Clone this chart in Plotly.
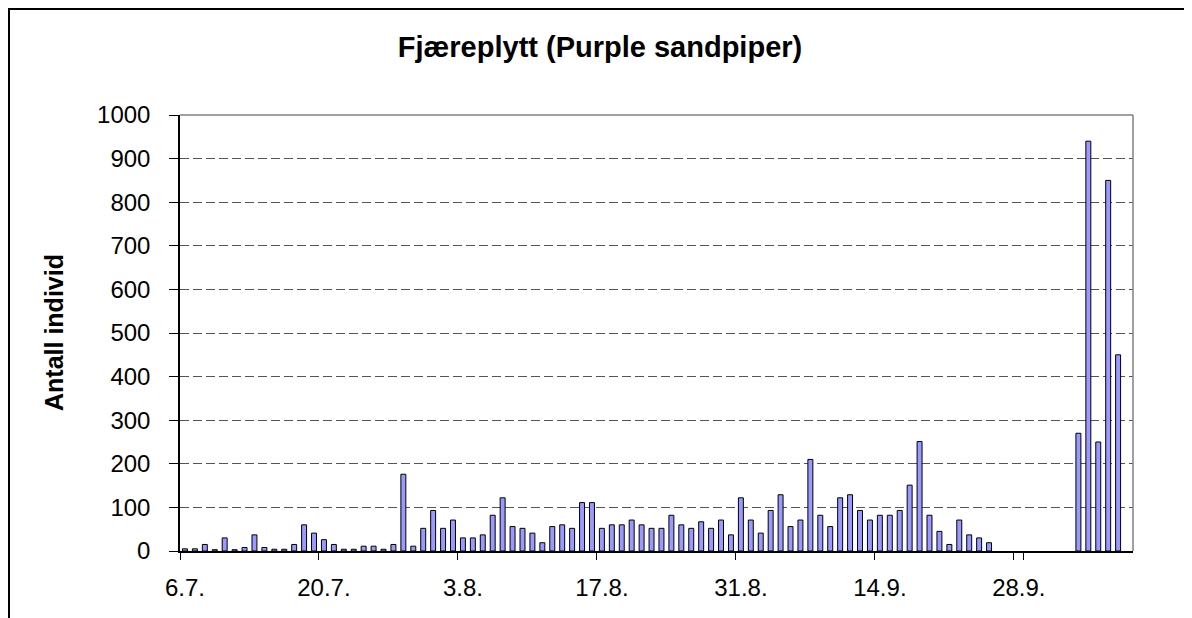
import plotly.graph_objects as go

# Daily categories 6.7. - 9.10.
dates = [
    "6.7.", "7.7.", "8.7.", "9.7.", "10.7.", "11.7.", "12.7.", "13.7.", "14.7.", "15.7.",
    "16.7.", "17.7.", "18.7.", "19.7.", "20.7.", "21.7.", "22.7.", "23.7.", "24.7.", "25.7.",
    "26.7.", "27.7.", "28.7.", "29.7.", "30.7.", "31.7.",
    "1.8.", "2.8.", "3.8.", "4.8.", "5.8.", "6.8.", "7.8.", "8.8.", "9.8.", "10.8.",
    "11.8.", "12.8.", "13.8.", "14.8.", "15.8.", "16.8.", "17.8.", "18.8.", "19.8.", "20.8.",
    "21.8.", "22.8.", "23.8.", "24.8.", "25.8.", "26.8.", "27.8.", "28.8.", "29.8.", "30.8.", "31.8.",
    "1.9.", "2.9.", "3.9.", "4.9.", "5.9.", "6.9.", "7.9.", "8.9.", "9.9.", "10.9.",
    "11.9.", "12.9.", "13.9.", "14.9.", "15.9.", "16.9.", "17.9.", "18.9.", "19.9.", "20.9.",
    "21.9.", "22.9.", "23.9.", "24.9.", "25.9.", "26.9.", "27.9.", "28.9.", "29.9.", "30.9.",
    "1.10.", "2.10.", "3.10.", "4.10.", "5.10.", "6.10.", "7.10.", "8.10.", "9.10.",
]

counts = [
    5, 5, 15, 3, 30, 3, 8, 37, 8, 4, 4, 15, 60, 41, 26, 15, 4, 4, 11, 11, 4, 15, 176, 11, 52,
    93, 52, 71, 30, 30, 37, 82, 122, 56, 52, 41, 19, 56, 60, 52, 111, 111, 52, 60, 60, 71, 60, 52, 52,
    82, 60, 52, 67, 52, 71, 37, 122, 71, 41, 93, 129, 56, 71, 210, 82, 56, 122, 129, 93, 71, 82, 82, 93,
    151, 251, 82, 45, 15, 71, 37, 30, 19,
    None, None, None, None, None, None, None, None,
    270, 940, 250, 850, 450, None,
]

tick_labels = ["6.7.", "20.7.", "3.8.", "17.8.", "31.8.", "14.9.", "28.9."]
y_ticks = [0, 100, 200, 300, 400, 500, 600, 700, 800, 900, 1000]

FONT = "Liberation Sans, Arial, sans-serif"

fig = go.Figure()
fig.add_trace(go.Bar(
    x=dates, y=counts,
    marker=dict(color="#9999FF", line=dict(color="#000000", width=1)),
    width=0.5,
    hoverinfo="x+y",
))

# page has an 8px body margin; figure sized accordingly
W, H = 1184, 610
L, R, T, B = 172, 59, 107, 67
pw, ph = W - L - R, H - T - B

def px2paper_x(px):
    return (px - L) / pw

def px2paper_y(py):
    return (H - B - py) / ph

fig.update_layout(
    width=W, height=H,
    margin=dict(l=L, r=R, t=T, b=B, autoexpand=False),
    paper_bgcolor="white", plot_bgcolor="white",
    showlegend=False,
    font=dict(family=FONT, color="black", size=24),
    title=dict(
        text="<b>Fjæreplytt (Purple sandpiper)</b>",
        x=0.5, xref="container", xanchor="center",
        y=1 - 39 / H, yref="container", yanchor="middle",
        font=dict(family=FONT, size=29, color="black"),
    ),
    xaxis=dict(
        type="category",
        categoryorder="array", categoryarray=dates,
        tickmode="array", tickvals=tick_labels, ticktext=tick_labels,
        tickson="boundaries", tickangle=0,
        ticks="outside", ticklen=7, tickcolor="black", tickwidth=1,
        showline=True, linecolor="black", linewidth=1.5,
        showgrid=False,
        range=[-0.5, len(dates) - 0.5],
        tickfont=dict(family=FONT, size=24, color="black"),
        ticklabelstandoff=14,
        fixedrange=True,
    ),
    yaxis=dict(
        range=[0, 1000],
        tickmode="array", tickvals=y_ticks,
        ticks="outside", ticklen=9, tickcolor="black", tickwidth=1,
        showline=True, linecolor="black", linewidth=1.5,
        showgrid=True, gridcolor="#555555", griddash="9px,4px", gridwidth=1,
        zeroline=False,
        tickfont=dict(family=FONT, size=24, color="black"),
        ticklabelstandoff=14,
        fixedrange=True,
    ),
    bargap=0.5,
    annotations=[
        dict(text="<b>Antall individ</b>", textangle=-90,
             xref="paper", yref="paper",
             x=px2paper_x(46), y=0.5, xanchor="center", yanchor="middle",
             showarrow=False, font=dict(family=FONT, size=25, color="black")),
    ],
    shapes=[
        # plot-area border (grey, top and right)
        dict(type="line", xref="paper", yref="paper", x0=0, x1=1, y0=1, y1=1,
             line=dict(color="#808080", width=1.5), layer="above"),
        dict(type="line", xref="paper", yref="paper", x0=1, x1=1, y0=0, y1=1,
             line=dict(color="#808080", width=1.5), layer="above"),
        # outer chart frame
        dict(type="rect", xref="paper", yref="paper",
             x0=px2paper_x(1), x1=px2paper_x(1178),
             y0=px2paper_y(640), y1=px2paper_y(1),
             line=dict(color="black", width=2), fillcolor="rgba(0,0,0,0)", layer="above"),
    ],
)

fig.write_html("out.html")
